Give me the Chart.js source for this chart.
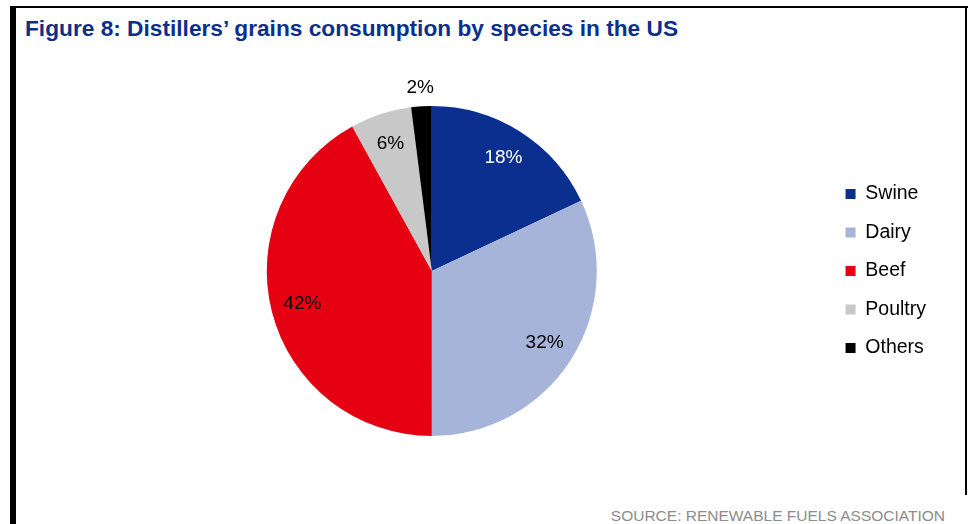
<!DOCTYPE html>
<html>
<head>
<meta charset="utf-8">
<title>Distillers' grains consumption by species</title>
<script src="https://cdn.jsdelivr.net/npm/chart.js@4/dist/chart.umd.min.js"></script>
<style>
  html, body { margin: 0; padding: 0; background: #fff; }
  body { width: 974px; height: 524px; position: relative; overflow: hidden; font-family: Arial, "Liberation Sans", sans-serif; }
  .frame-left { position: absolute; left: 10px; top: 6px; width: 6px; height: 530px; background: #000; }
  .frame-top { position: absolute; left: 10px; top: 6px; width: 958px; height: 2px; background: #000; }
  .frame-right { position: absolute; left: 965px; top: 6px; width: 2px; height: 489px; background: #000; }
  .title { position: absolute; left: 25px; top: 17px; font-weight: bold; font-size: 22.7px; line-height: 22.7px; color: #0c2f8a; white-space: nowrap; }
  .source { position: absolute; right: 29px; top: 508px; font-size: 15.5px; line-height: 15.5px; color: #8c8c8c; white-space: nowrap; }
  .chart-box { position: absolute; left: 20px; top: 60px; width: 920px; height: 422px; }
</style>
</head>
<body>
<div class="frame-left"></div>
<div class="frame-top"></div>
<div class="frame-right"></div>
<div class="title">Figure 8: Distillers’ grains consumption by species in the US</div>
<div class="chart-box"><canvas id="canvas-species"></canvas></div>
<div class="source">SOURCE: RENEWABLE FUELS ASSOCIATION</div>

<script>
const species = ["Swine", "Dairy", "Beef", "Poultry", "Others"];
const shares = [18, 32, 42, 6, 2];
const sliceColors = ["#0a2f8e", "#a7b4da", "#e50012", "#c8c8c8", "#000000"];
const labelColors = ["#ffffff", "#000000", "#000000", "#000000", "#000000"];

// percentage text on each slice; the thin last slice gets it outside the rim
const sliceLabels = {
  id: "sliceLabels",
  afterDatasetsDraw(chart) {
    const { ctx } = chart;
    const arcs = chart.getDatasetMeta(0).data;
    ctx.save();
    ctx.font = "19px Arial, 'Liberation Sans', sans-serif";
    ctx.textAlign = "center";
    ctx.textBaseline = "middle";
    arcs.forEach((arc, i) => {
      const { x, y, startAngle, endAngle, outerRadius } = arc.getProps(
        ["x", "y", "startAngle", "endAngle", "outerRadius"], true);
      const mid = (startAngle + endAngle) / 2;
      const r = outerRadius * (i === arcs.length - 1 ? 1.11 : 0.81);
      ctx.fillStyle = labelColors[i];
      ctx.fillText(shares[i] + "%", x + Math.cos(mid) * r, y + Math.sin(mid) * r);
    });
    ctx.restore();
  },
};

new Chart(document.getElementById("canvas-species"), {
  type: "pie",
  data: {
    labels: species,
    datasets: [
      {
        data: shares,
        backgroundColor: sliceColors,
        borderWidth: 0,
      },
    ],
  },
  options: {
    responsive: true,
    maintainAspectRatio: false,
    animation: false,
    layout: { padding: { top: 46, bottom: 46, left: 17, right: 4 } },
    plugins: {
      legend: {
        position: "right",
        labels: {
          boxWidth: 10,
          boxHeight: 10,
          padding: 19,
          color: "#000",
          font: { family: "Arial, 'Liberation Sans', sans-serif", size: 19.5 },
        },
      },
      tooltip: { enabled: false },
    },
  },
  plugins: [sliceLabels],
});
</script>
</body>
</html>
